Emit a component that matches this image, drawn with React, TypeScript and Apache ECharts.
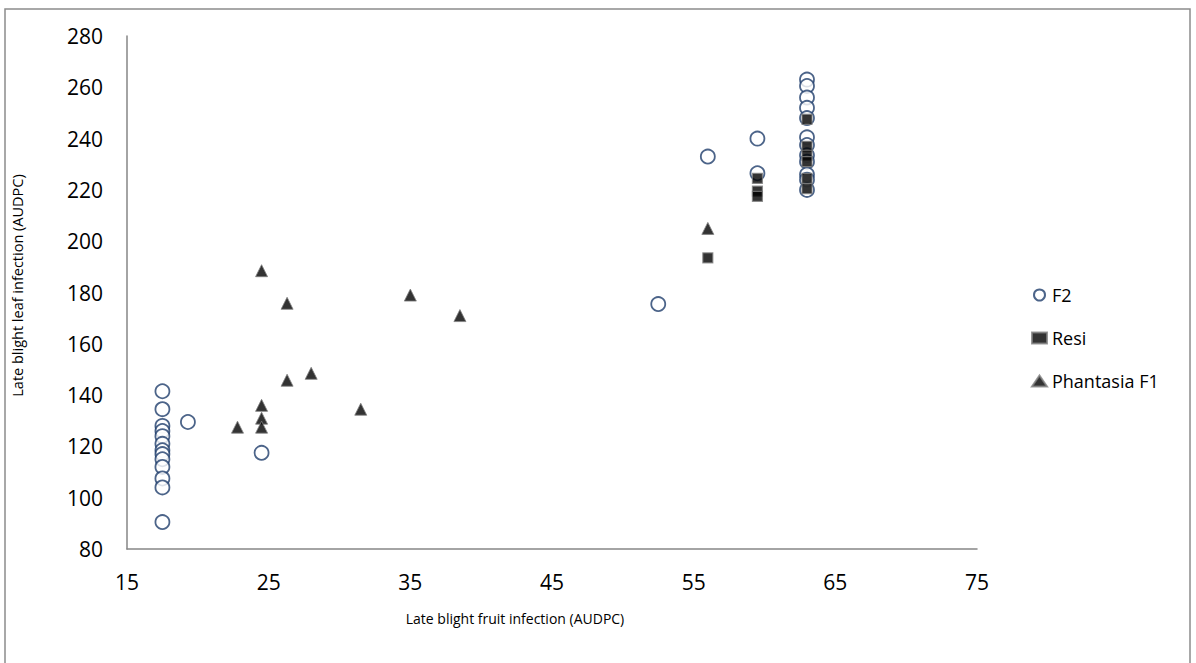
import React, { useEffect, useRef } from "react";
import * as echarts from "echarts";

const xTicks = [15, 25, 35, 45, 55, 65, 75];
const yTicks = [80, 100, 120, 140, 160, 180, 200, 220, 240, 260, 280];

const f2Points: [number, number][] = [
  [17.5, 141.5], [17.5, 134.5], [17.5, 128], [17.5, 126], [17.5, 124], [17.5, 121],
  [17.5, 118.5], [17.5, 117], [17.5, 115], [17.5, 112], [17.5, 107.5], [17.5, 104],
  [17.5, 90.5], [19.3, 129.5], [24.5, 117.5], [52.5, 175.5], [56, 233],
  [59.5, 240], [59.5, 226.5], [63, 263], [63, 260.5], [63, 256], [63, 252],
  [63, 248], [63, 240.5], [63, 237.5], [63, 233.5], [63, 231], [63, 226], [63, 224], [63, 220],
];

const resiPoints: [number, number][] = [
  [56, 193.5], [59.5, 224.5], [59.5, 219.5], [59.5, 217.5],
  [63, 247.5], [63, 237], [63, 233.5], [63, 231], [63, 224.5], [63, 220.5],
];

const phantasiaPoints: [number, number][] = [
  [22.8, 127.5], [24.5, 136], [24.5, 131], [24.5, 127.5], [24.5, 188.5],
  [26.3, 175.8], [26.3, 145.8], [28, 148.5], [31.5, 134.5], [35, 179],
  [38.5, 171], [56, 205],
];

const FONT = "'Open Sans', 'Liberation Sans', Arial, sans-serif";

export default function App() {
  const ref = useRef<HTMLDivElement>(null);
  useEffect(() => {
    if (!ref.current) return;
    const chart = echarts.init(ref.current, null, { renderer: "svg" });
    chart.setOption({
      animation: false,
      backgroundColor: "#ffffff",
      textStyle: { fontFamily: FONT },
      graphic: [
        {
          type: "rect",
          shape: { x: 5, y: 9, width: 1185, height: 700 },
          style: { fill: "none", stroke: "#8c8c8c", lineWidth: 1.5 },
          silent: true,
          z: -1,
        },
      ],
      grid: { left: 127, top: 36, right: 219, bottom: 114 },
      legend: {
        orient: "vertical",
        left: 1026,
        top: 281,
        itemGap: 25,
        itemWidth: 15,
        itemHeight: 11,
        textStyle: { fontSize: 18, color: "#000", fontFamily: FONT },
        data: ["F2", "Resi", "Phantasia F1"],
      },
      xAxis: {
        type: "value",
        min: xTicks[0],
        max: xTicks[xTicks.length - 1],
        interval: 10,
        name: "Late blight fruit infection (AUDPC)",
        nameLocation: "middle",
        nameGap: 62,
        nameTextStyle: { fontSize: 14, color: "#000", fontFamily: FONT, padding: [0, 74, 0, 0] },
        axisLine: { show: true, lineStyle: { color: "#868686", width: 1.5 } },
        axisTick: { show: false },
        splitLine: { show: false },
        axisLabel: { fontSize: 21, color: "#000", margin: 22, fontFamily: FONT },
      },
      yAxis: {
        type: "value",
        min: yTicks[0],
        max: yTicks[yTicks.length - 1],
        interval: 20,
        name: "Late blight leaf infection (AUDPC)",
        nameLocation: "middle",
        nameGap: 102,
        nameRotate: 90,
        nameTextStyle: { fontSize: 14.5, color: "#000", fontFamily: FONT, padding: [0, 0, 0, 14] },
        axisLine: { show: true, lineStyle: { color: "#868686", width: 1.5 } },
        axisTick: { show: false },
        splitLine: { show: false },
        axisLabel: { fontSize: 21, color: "#000", margin: 24, fontFamily: FONT },
      },
      series: [
        {
          name: "F2",
          type: "scatter",
          symbol: "circle",
          symbolSize: 14,
          data: f2Points,
          itemStyle: { color: "#ffffff", borderColor: "#1f3d6b", borderWidth: 1.8 },
          z: 2,
        },
        {
          name: "Resi",
          type: "scatter",
          symbol: "rect",
          symbolSize: 10,
          data: resiPoints,
          itemStyle: { color: "#000000", borderColor: "#7f7f7f", borderWidth: 1.2 },
          z: 3,
        },
        {
          name: "Phantasia F1",
          type: "scatter",
          symbol: "triangle",
          symbolSize: 12,
          data: phantasiaPoints,
          itemStyle: { color: "#000000", borderColor: "#7f7f7f", borderWidth: 1 },
          z: 4,
        },
      ],
    });
    return () => chart.dispose();
  }, []);
  return (
    <div
      ref={ref}
      style={{ position: "fixed", left: 0, top: 0, width: 1196, height: 663, background: "#fff" }}
    />
  );
}
